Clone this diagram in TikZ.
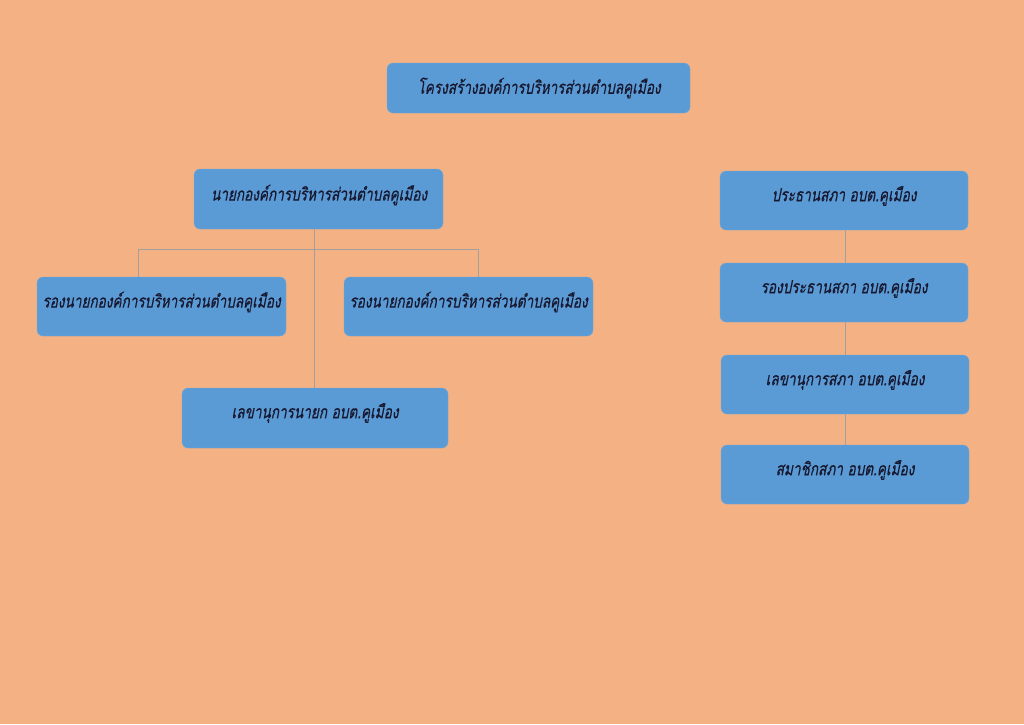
\documentclass[tikz,border=0pt]{standalone}
\usepackage{fontspec}
\newfontfamily\thaifont[Script=Thai,FakeSlant=0.2,FakeStretch=0.755,FakeBold=0.4]{Loma}
\definecolor{bg}{HTML}{F4B183}
\definecolor{boxblue}{HTML}{5B9BD5}
\definecolor{txt}{HTML}{17172F}
\definecolor{conncol}{HTML}{A0A0A0}
\begin{document}
\begin{tikzpicture}[x=1pt,y=-1pt,
  box/.style={fill=boxblue, draw=boxblue!85!white, rounded corners=6pt, inner sep=0pt, minimum width=249pt, minimum height=59pt},
  lbl/.style={font=\thaifont\fontsize{18}{21}\selectfont, text=txt, inner sep=0pt, anchor=center},
  connline/.style={draw=conncol, line width=1pt}]
\fill[bg] (0,0) rectangle (1024,724);
\useasboundingbox (0,0) rectangle (1024,724);
% boxes
\node[box, minimum width=303pt, minimum height=50pt] (title) at (538.5,88) {};
\node[box, minimum height=60pt] (mayor) at (318.5,199) {};
\node[box] (depL) at (161.5,306.5) {};
\node[box] (depR) at (468.5,306.5) {};
\node[box, minimum width=266pt, minimum height=60pt] (sec) at (315,418) {};
\node[box, minimum width=248pt] (r1) at (844,200.5) {};
\node[box, minimum width=248pt] (r2) at (844,292.5) {};
\node[box, minimum width=248pt] (r3) at (845,384.5) {};
\node[box, minimum width=248pt] (r4) at (845,474.5) {};
% connectors
\coordinate (trunk) at (314,249);
\coordinate (jL) at (138,249);
\coordinate (jR) at (478,249);
\coordinate (rx) at (845,0);
\draw[connline] (mayor.south -| trunk) -- (sec.north -| trunk);
\draw[connline] (depL.north -| jL) -- (jL) -- (jR) -- (depR.north -| jR);
\draw[connline] (r1.south -| rx) -- (r2.north -| rx);
\draw[connline] (r2.south -| rx) -- (r3.north -| rx);
\draw[connline] (r3.south -| rx) -- (r4.north -| rx);
% labels
\node[lbl] (tTitle) at (539,88) {โครงสร้างองค์การบริหารส่วนตำบลคูเมือง};
\node[lbl] (tMayor) at (319,195) {นายกองค์การบริหารส่วนตำบลคูเมือง};
\node[lbl] (tDepL) at (161.5,302) {รองนายกองค์การบริหารส่วนตำบลคูเมือง};
\node[lbl] (tDepR) at (468.5,302) {รองนายกองค์การบริหารส่วนตำบลคูเมือง};
\node[lbl] (tSec) at (315,413) {เลขานุการนายก อบต.คูเมือง};
\node[lbl] (tR1) at (844,196) {ประธานสภา อบต.คูเมือง};
\node[lbl] (tR2) at (844,288) {รองประธานสภา อบต.คูเมือง};
\node[lbl] (tR3) at (845,380) {เลขานุการสภา อบต.คูเมือง};
\node[lbl] (tR4) at (845,470) {สมาชิกสภา อบต.คูเมือง};
\end{tikzpicture}
\end{document}
